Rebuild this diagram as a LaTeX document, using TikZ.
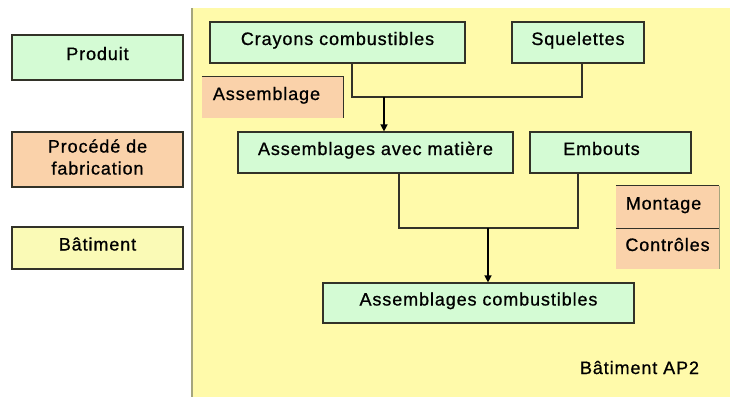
\documentclass[tikz,border=0pt]{standalone}
\usepackage{fontspec}
\setmainfont{Liberation Sans}[LetterSpace=5,FakeBold=0.8]
\usetikzlibrary{arrows.meta}
\definecolor{grn}{RGB}{212,251,212}
\definecolor{pch}{RGB}{250,210,170}
\definecolor{ylw}{RGB}{255,250,170}
\definecolor{lylw}{RGB}{250,250,182}
\definecolor{edge}{RGB}{50,50,40}
\definecolor{sideedge}{RGB}{165,165,125}
\begin{document}
\begin{tikzpicture}[x=1pt,y=-1pt,
  every node/.style={font=\fontsize{18}{22}\selectfont, inner sep=0pt, text height=12pt, text depth=7pt},
  boxbase/.style={draw=edge, line width=1.2pt},
  gbox/.style={boxbase, fill=grn},
  pbox/.style={boxbase, fill=pch},
  ybox/.style={boxbase, fill=lylw},
  pcell/.style={fill=pch, draw=none},
  conn/.style={draw=edge, line width=1.2pt},
  arr/.style={draw=black, line width=1.4pt, -{Triangle[length=7pt,width=7pt]}}]
\useasboundingbox (0,0) rectangle (730,397);
\fill[white] (0,0) rectangle (730,397);
% building area
\fill[ylw] (192,8) rectangle (730,397);
\draw[sideedge, line width=2.5pt] (192,8) -- (192,397);
% legend
\node[gbox, minimum width=171pt, minimum height=45pt] (produit) at (97.5,57.5) {Produit};
\node[pbox, minimum width=171pt, minimum height=55pt] (procede) at (97.5,159.5) {};
\node[align=center, text height=, text depth=] (proctext) at (97.5,157) {Procédé de\\fabrication};
\node[ybox, minimum width=171pt, minimum height=42pt] (batiment) at (97.5,248) {Bâtiment};
% products
\node[gbox, minimum width=255pt, minimum height=41pt] (crayons) at (337.5,42.5) {Crayons combustibles};
\node[gbox, minimum width=132pt, minimum height=41pt] (squel) at (578,42.5) {Squelettes};
\node[pcell, minimum width=141pt, minimum height=41pt] (asm) at (272.5,97.5) {Assemblage\kern12pt};
\draw[edge, line width=1.2pt] (asm.north west) -- (asm.north east) -- (asm.south east);
\node[gbox, minimum width=275pt, minimum height=41pt] (aam) at (375.5,152.5) {Assemblages avec matière};
\node[gbox, minimum width=161pt, minimum height=41pt] (embouts) at (610.5,152.5) {Embouts\kern18pt};
\node[pcell, minimum width=103pt, minimum height=42pt] (montage) at (667.5,207) {Montage\kern8pt};
\node[pcell, minimum width=103pt, minimum height=41pt] (controles) at (667.5,248.5) {Contrôles};
\draw[edge, line width=1.2pt] (montage.north west) -- (montage.north east);
\draw[edge, line width=1.2pt] (montage.south west) -- (montage.south east);
\draw[sideedge, line width=1.2pt] (montage.north east) -- (controles.south east);
\node[gbox, minimum width=311pt, minimum height=40pt] (ac) at (478.5,303) {Assemblages combustibles};
\node (ap2) at (639.5,371.5) {Bâtiment AP2};
% connectors
\coordinate (j1) at (384,97);
\coordinate (j2) at (488,228);
\draw[conn] ([xshift=14.5pt]crayons.south) |- (j1) -| ([xshift=4pt]squel.south);
\draw[arr] (j1) -- (aam.north -| j1);
\draw[conn] ([xshift=23.5pt]aam.south) |- (j2) -| ([xshift=-32.5pt]embouts.south);
\draw[arr] (j2) -- (ac.north -| j2);
\end{tikzpicture}
\end{document}
